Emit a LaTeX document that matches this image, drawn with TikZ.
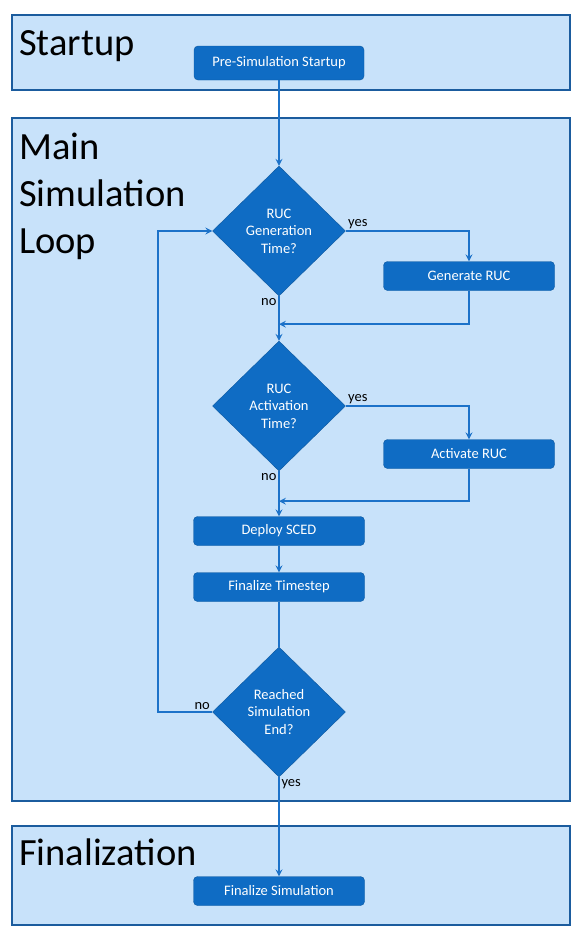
\documentclass[tikz,border=0pt]{standalone}
\usepackage{fontspec}
\setmainfont{Carlito}
\usetikzlibrary{shapes.geometric, arrows}
\definecolor{panelfill}{HTML}{C8E2FA}
\definecolor{panelline}{HTML}{1B5C9E}
\definecolor{boxfill}{HTML}{0F6CC4}
\definecolor{boxline}{HTML}{0B579F}
\definecolor{flowline}{HTML}{1C72C9}
\tikzstyle{stage} = [rectangle, draw=panelline, fill=panelfill, line width=1.1pt]
\tikzstyle{title} = [anchor=base west, inner sep=0pt, align=left,
font=\fontsize{38.5}{47}\selectfont]
\tikzstyle{process} = [rectangle, rounded corners=4pt, minimum width=171pt,
minimum height=29pt, text centered, draw=boxline, fill=boxfill, text=white,
font=\fontsize{14.5}{17.5}\selectfont]
\tikzstyle{decision} = [diamond, minimum width=133pt, minimum height=130pt,
inner sep=0pt, align=center, draw=boxline, fill=boxfill, text=white,
font=\fontsize{14.5}{17.5}\selectfont]
\tikzstyle{answer} = [inner sep=1.5pt, font=\fontsize{14.5}{17.5}\selectfont]
\tikzstyle{link} = [line width=2pt, draw=flowline]
\tikzstyle{arrow} = [link, ->, >=stealth]

\begin{document}
\begin{tikzpicture}[x=1pt, y=-1pt, node distance=125pt]
\useasboundingbox (0,0) rectangle (584,943);
% Stage panels
\draw[stage] (12,15) rectangle (570,90);
\draw[stage] (12,118) rectangle (570,801);
\draw[stage] (12,826) rectangle (570,925);
\node (ttlstart) [title] at (19,55) {Startup};
\node (ttlloop) [title] at (19,253) {Main\\Simulation\\Loop};
\node (ttlfinal) [title] at (19,865) {Finalization};
%Calling the blocks
\node (start) [process, minimum width=170pt, minimum height=34pt] at (279,63) {Pre-Simulation Startup};
\node (dec1) [decision, below of=start, yshift=-43pt] {RUC\\Generation\\Time?};
\node (gen) [process, right of=dec1, node distance=190pt, yshift=-45pt] {Generate RUC};
\node (dec2) [decision, below of=dec1, yshift=-50pt] {RUC\\Activation\\Time?};
\node (act) [process, right of=dec2, node distance=190pt, yshift=-48pt] {Activate RUC};
\node (deploy) [process, below of=dec2] {Deploy SCED};
\node (finstep) [process, below of=deploy, node distance=56pt] {Finalize Timestep};
\node (dec3) [decision, below of=finstep] {Reached\\Simulation\\End?};
\node (finsim) [process, below of=dec3, yshift=-54pt] {Finalize Simulation};
\path (dec1.south) ++(0,28) coordinate (join1);
\path (dec2.south) ++(0,30) coordinate (join2);
% Drawing the arrows between blocks
\draw[arrow] (start) -- (dec1);
\draw[arrow] (dec1.east) node[answer, above right] {yes} -| (gen);
\draw[arrow] (gen.south) |- (join1);
\draw[arrow] (dec1.south) node[answer, below left] {no} -- (dec2.north);
\draw[arrow] (dec2.east) node[answer, above right] {yes} -| (act);
\draw[arrow] (act.south) |- (join2);
\draw[arrow] (dec2.south) node[answer, below left] {no} -- (deploy);
\draw[arrow] (deploy) -- (finstep);
\draw[link] (finstep) -- (dec3);
\draw[arrow] (dec3.west) node[answer, above left] {no} -- ++(-54,0) |- (dec1.west);
\draw[arrow] (dec3.south) node[answer, below right] {yes} -- (finsim);
\end{tikzpicture}
\end{document}
